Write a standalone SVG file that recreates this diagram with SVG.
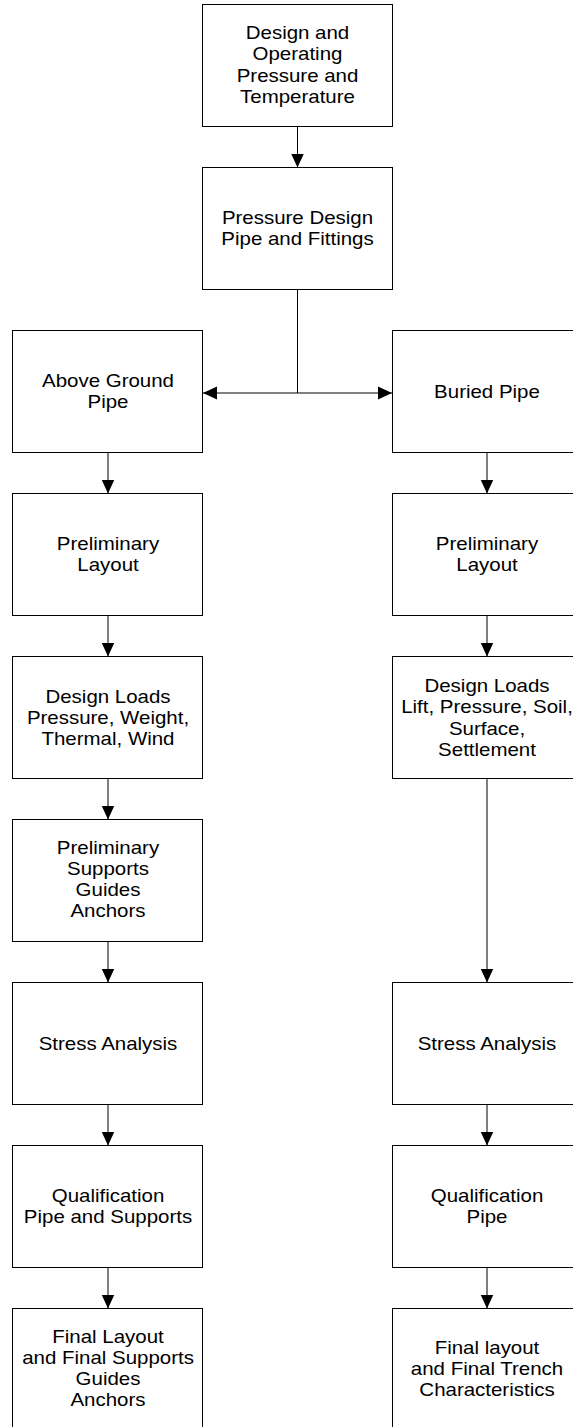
<svg xmlns="http://www.w3.org/2000/svg" width="573" height="1427" viewBox="0 0 573 1427">
<style>
.box{fill:#fff;stroke:#000;stroke-width:1}
.t{font-family:"Liberation Sans",Arial,sans-serif;font-size:18.6px;fill:#000;text-anchor:middle}
.c{fill:none;stroke:#000;stroke-width:1}
</style>
<defs>
<marker id="ah" markerUnits="userSpaceOnUse" markerWidth="14" markerHeight="14" viewBox="0 0 13 12" refX="13" refY="6" orient="auto">
<path d="M0,0 L13,6 L0,12 Z" fill="#000"/>
</marker>
</defs>
<g id="connectors">
<line class="c" x1="297.5" y1="126.5" x2="297.5" y2="167.5" marker-end="url(#ah)"/>
<line class="c" x1="297.5" y1="289.5" x2="297.5" y2="393"/>
<line class="c" x1="297.5" y1="393" x2="203" y2="393" marker-end="url(#ah)"/>
<line class="c" x1="297.5" y1="393" x2="392" y2="393" marker-end="url(#ah)"/>
<line class="c" x1="108" y1="452.5" x2="108" y2="493.5" marker-end="url(#ah)"/>
<line class="c" x1="108" y1="615.5" x2="108" y2="656.5" marker-end="url(#ah)"/>
<line class="c" x1="108" y1="778.5" x2="108" y2="819.5" marker-end="url(#ah)"/>
<line class="c" x1="108" y1="941.5" x2="108" y2="982.5" marker-end="url(#ah)"/>
<line class="c" x1="108" y1="1104.5" x2="108" y2="1145.5" marker-end="url(#ah)"/>
<line class="c" x1="108" y1="1267.5" x2="108" y2="1308.5" marker-end="url(#ah)"/>
<line class="c" x1="487" y1="452.5" x2="487" y2="493.5" marker-end="url(#ah)"/>
<line class="c" x1="487" y1="615.5" x2="487" y2="656.5" marker-end="url(#ah)"/>
<line class="c" x1="487" y1="778.5" x2="487" y2="982.5" marker-end="url(#ah)"/>
<line class="c" x1="487" y1="1104.5" x2="487" y2="1145.5" marker-end="url(#ah)"/>
<line class="c" x1="487" y1="1267.5" x2="487" y2="1308.5" marker-end="url(#ah)"/>
</g>
<g id="n-design-operating">
<rect class="box" x="202.5" y="4.5" width="190" height="122"/>
<text class="t" transform="translate(297.5 0) scale(1.1 1)"><tspan x="0" y="39">Design and</tspan><tspan x="0" y="60">Operating</tspan><tspan x="0" y="82">Pressure and</tspan><tspan x="0" y="103">Temperature</tspan></text>
</g>
<g id="n-pressure-design">
<rect class="box" x="202.5" y="167.5" width="190" height="122"/>
<text class="t" transform="translate(297.5 0) scale(1.1 1)"><tspan x="0" y="224.5">Pressure Design</tspan><tspan x="0" y="245.5">Pipe and Fittings</tspan></text>
</g>
<g id="n-above-ground">
<rect class="box" x="12.5" y="330.5" width="190" height="122"/>
<text class="t" transform="translate(108 0) scale(1.1 1)"><tspan x="0" y="387.5">Above Ground</tspan><tspan x="0" y="408.5">Pipe</tspan></text>
</g>
<g id="n-buried">
<rect class="box" x="392.5" y="330.5" width="190" height="122"/>
<text class="t" transform="translate(487 0) scale(1.1 1)"><tspan x="0" y="398">Buried Pipe</tspan></text>
</g>
<g id="n-prelim-layout-l">
<rect class="box" x="12.5" y="493.5" width="190" height="122"/>
<text class="t" transform="translate(108 0) scale(1.1 1)"><tspan x="0" y="550.5">Preliminary</tspan><tspan x="0" y="571.5">Layout</tspan></text>
</g>
<g id="n-prelim-layout-r">
<rect class="box" x="392.5" y="493.5" width="190" height="122"/>
<text class="t" transform="translate(487 0) scale(1.1 1)"><tspan x="0" y="550.5">Preliminary</tspan><tspan x="0" y="571.5">Layout</tspan></text>
</g>
<g id="n-design-loads-l">
<rect class="box" x="12.5" y="656.5" width="190" height="122"/>
<text class="t" transform="translate(108 0) scale(1.1 1)"><tspan x="0" y="703">Design Loads</tspan><tspan x="0" y="724">Pressure, Weight,</tspan><tspan x="0" y="745">Thermal, Wind</tspan></text>
</g>
<g id="n-design-loads-r">
<rect class="box" x="392.5" y="656.5" width="190" height="122"/>
<text class="t" transform="translate(487 0) scale(1.1 1)"><tspan x="0" y="692">Design Loads</tspan><tspan x="0" y="713.5">Lift, Pressure, Soil,</tspan><tspan x="0" y="735">Surface,</tspan><tspan x="0" y="756">Settlement</tspan></text>
</g>
<g id="n-prelim-supports">
<rect class="box" x="12.5" y="819.5" width="190" height="122"/>
<text class="t" transform="translate(108 0) scale(1.1 1)"><tspan x="0" y="854.5">Preliminary</tspan><tspan x="0" y="875.5">Supports</tspan><tspan x="0" y="896.5">Guides</tspan><tspan x="0" y="917.5">Anchors</tspan></text>
</g>
<g id="n-stress-l">
<rect class="box" x="12.5" y="982.5" width="190" height="122"/>
<text class="t" transform="translate(108 0) scale(1.1 1)"><tspan x="0" y="1050">Stress Analysis</tspan></text>
</g>
<g id="n-stress-r">
<rect class="box" x="392.5" y="982.5" width="190" height="122"/>
<text class="t" transform="translate(487 0) scale(1.1 1)"><tspan x="0" y="1050">Stress Analysis</tspan></text>
</g>
<g id="n-qual-l">
<rect class="box" x="12.5" y="1145.5" width="190" height="122"/>
<text class="t" transform="translate(108 0) scale(1.1 1)"><tspan x="0" y="1202.5">Qualification</tspan><tspan x="0" y="1223.5">Pipe and Supports</tspan></text>
</g>
<g id="n-qual-r">
<rect class="box" x="392.5" y="1145.5" width="190" height="122"/>
<text class="t" transform="translate(487 0) scale(1.1 1)"><tspan x="0" y="1202.5">Qualification</tspan><tspan x="0" y="1223.5">Pipe</tspan></text>
</g>
<g id="n-final-l">
<rect class="box" x="12.5" y="1308.5" width="190" height="122"/>
<text class="t" transform="translate(108 0) scale(1.1 1)"><tspan x="0" y="1343.5">Final Layout</tspan><tspan x="0" y="1364.5">and Final Supports</tspan><tspan x="0" y="1385.5">Guides</tspan><tspan x="0" y="1406.5">Anchors</tspan></text>
</g>
<g id="n-final-r">
<rect class="box" x="392.5" y="1308.5" width="190" height="122"/>
<text class="t" transform="translate(487 0) scale(1.1 1)"><tspan x="0" y="1354">Final layout</tspan><tspan x="0" y="1375">and Final Trench</tspan><tspan x="0" y="1396">Characteristics</tspan></text>
</g>
</svg>
